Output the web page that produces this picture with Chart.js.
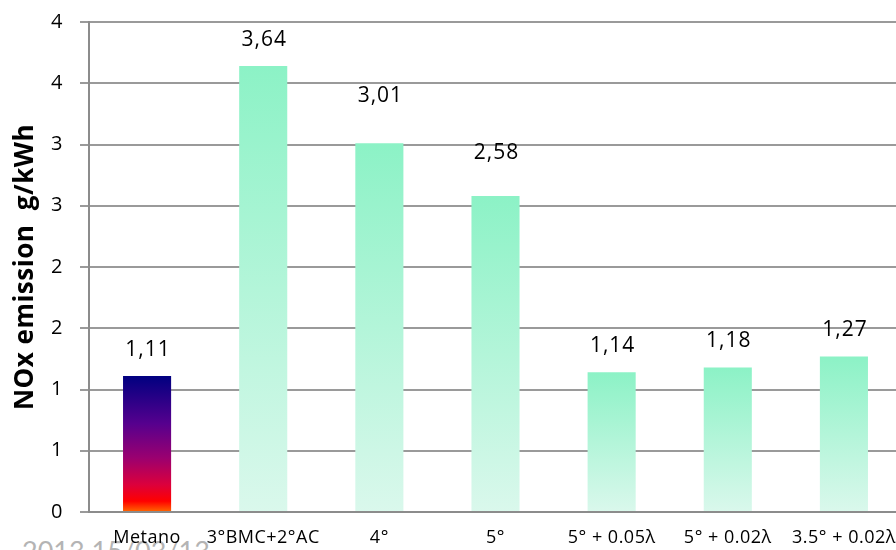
<!DOCTYPE html>
<html>
<head>
<meta charset="utf-8">
<script src="https://cdn.jsdelivr.net/npm/chart.js@4/dist/chart.umd.min.js"></script>
<style>
  html, body { margin: 0; padding: 0; background: #fff; overflow: hidden; }
  #wrap { position: relative; width: 902px; height: 550px; }
  #stamp {
    position: absolute; left: 22px; top: 537px; z-index: 0;
    font-family: Lato, "Open Sans", sans-serif; font-size: 27px; line-height: 1;
    color: #b4b4b4; white-space: nowrap;
  }
  canvas { position: absolute; left: 0; top: 0; z-index: 1; }
</style>
</head>
<body>
<div id="wrap">
  <div id="stamp">2013 15/03/13</div>
  <canvas id="c" width="902" height="550"></canvas>
</div>
<script>
// Engine configurations and measured NOx emissions (g/kWh)
const categories = ['Metano', '3°BMC+2°AC', '4°', '5°', '5° + 0.05λ', '5° + 0.02λ', '3.5° + 0.02λ'];
const noxValues = [1.11, 3.64, 3.01, 2.58, 1.14, 1.18, 1.27];
// Axis labels shown with zero decimals at every half step
const yTickLabels = ['0', '1', '1', '2', '2', '3', '3', '4', '4'];

const FONT = '"Open Sans", "DejaVu Sans", sans-serif';

// Per-bar vertical gradient: reference fuel in a fire ramp, the others in mint
function barFill(ctx) {
  const chart = ctx.chart;
  const area = chart.chartArea;
  if (!area || ctx.type !== 'data') return '#8ef2c8';
  const y = chart.scales.y;
  const top = y.getPixelForValue(noxValues[ctx.dataIndex]);
  const bottom = y.getPixelForValue(0);
  const g = chart.ctx.createLinearGradient(0, top, 0, bottom);
  if (ctx.dataIndex === 0) {
    g.addColorStop(0, '#000080');
    g.addColorStop(0.35, '#56008e');
    g.addColorStop(0.6, '#9a0070');
    g.addColorStop(0.8, '#dc003c');
    g.addColorStop(0.92, '#ff0000');
    g.addColorStop(1, '#ff6a00');
  } else {
    g.addColorStop(0, '#8cf2c6');
    g.addColorStop(1, '#daf8ec');
  }
  return g;
}

// Slightly open letter spacing for all chart text
const textSpacing = {
  id: 'textSpacing',
  beforeUpdate(chart) { chart.ctx.letterSpacing = '0.5px'; },
  beforeDraw(chart) { chart.ctx.letterSpacing = '0.5px'; }
};

// Value labels above each bar, decimal comma
const valueLabels = {
  id: 'valueLabels',
  afterDatasetsDraw(chart, args, opts) {
    const c = chart.ctx;
    const meta = chart.getDatasetMeta(0);
    c.save();
    c.letterSpacing = '1px';
    c.font = '21px ' + FONT;
    c.fillStyle = '#000';
    c.textAlign = 'center';
    c.textBaseline = 'middle';
    meta.data.forEach((bar, i) => {
      const txt = noxValues[i].toFixed(2).replace('.', ',');
      const lift = opts.gap + (opts.extra[i] || 0);
      c.fillText(txt, bar.x + 1, bar.y - lift);
    });
    c.restore();
  }
};

new Chart(document.getElementById('c'), {
  type: 'bar',
  data: {
    labels: categories,
    datasets: [{
      data: noxValues,
      backgroundColor: barFill,
      borderWidth: 0,
      categoryPercentage: 1,
      barPercentage: 0.414
    }]
  },
  options: {
    responsive: false,
    animation: false,
    devicePixelRatio: 1,
    layout: { padding: { top: 22, right: 0, bottom: 0, left: 0 } },
    plugins: {
      legend: { display: false },
      tooltip: { enabled: false },
      valueLabels: { gap: 26, extra: [0, 0, 21, 17, 0, 0, 0] }
    },
    scales: {
      x: {
        grid: { display: false, drawTicks: false },
        border: { display: true, color: '#8c8c8c', width: 2 },
        ticks: {
          color: '#000', font: { family: FONT, size: 18 },
          padding: 15, maxRotation: 0, autoSkip: false
        },
        afterFit(scale) {
          scale.height = 38;
          scale.paddingLeft = 0;
          scale.paddingRight = 0;
        }
      },
      y: {
        min: 0, max: 4,
        grid: { color: '#9a9a9a', lineWidth: 2, tickLength: 9, drawTicks: true },
        border: { display: true, color: '#8c8c8c', width: 2 },
        ticks: {
          stepSize: 0.5, color: '#000', font: { family: FONT, size: 20 }, padding: 17,
          callback: (v, i) => yTickLabels[i]
        },
        title: {
          display: true, text: 'NOx emission  g/kWh', color: '#000',
          font: { family: FONT, size: 26, weight: 'bold' }, padding: { top: 10, bottom: 0 }
        },
        afterFit(scale) {
          scale.width = 89;
          scale.paddingTop = 0;
          scale.paddingBottom = 0;
        }
      }
    }
  },
  plugins: [textSpacing, valueLabels]
});
</script>
</body>
</html>
